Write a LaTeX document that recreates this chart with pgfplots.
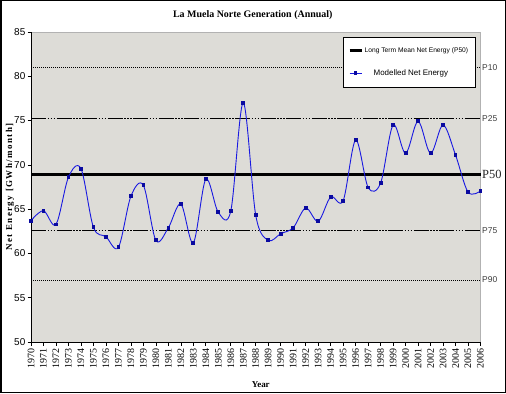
\documentclass[border=0pt]{standalone}
\usepackage{pgfplots}
\pgfplotsset{compat=1.18}
\usepackage{fontspec}
\setmainfont{Liberation Serif}
\setsansfont{Liberation Sans}
\definecolor{plotbg}{RGB}{221,220,215}
\definecolor{serblue}{RGB}{25,25,225}
\definecolor{mkblue}{RGB}{10,10,160}
\definecolor{pgray}{RGB}{60,60,60}
\pgfplotsset{
  mylegimg/.style={legend image code/.code={\draw[mark repeat=2,mark phase=2,##1] plot coordinates {(0bp,0bp) (6bp,0bp) (12bp,0bp)};}},
}
\pgfplotstableread{
year val
1970 63.70
1971 64.82
1972 63.28
1973 68.60
1974 69.57
1975 62.95
1976 61.89
1977 60.69
1978 66.45
1979 67.69
1980 61.48
1981 62.90
1982 65.58
1983 61.21
1984 68.37
1985 64.64
1986 64.79
1987 77.00
1988 64.30
1989 61.48
1990 62.23
1991 62.90
1992 65.13
1993 63.63
1994 66.37
1995 65.96
1996 72.80
1997 67.46
1998 67.95
1999 74.50
2000 71.30
2001 74.92
2002 71.30
2003 74.50
2004 71.11
2005 66.93
2006 67.05
}\energy
\begin{document}
\begin{tikzpicture}[x=1bp,y=1bp]
\begin{axis}[
  at={(31bp,51bp)}, anchor=south west,
  scale only axis, width=449.5bp, height=310bp,
  xmin=1970, xmax=2006, ymin=50, ymax=85,
  axis background/.style={fill=plotbg, draw=gray!60},
  axis x line=bottom, axis y line=left,
  axis line style={-, black, line width=0.8bp},
  xtick={1970,...,2006}, ytick={50,55,...,85},
  tick align=outside, major tick length=3.5bp,
  tick style={black, line width=0.6bp},
  /pgf/number format/assume math mode=true,
  /pgf/number format/1000 sep={},
  xticklabel style={rotate=90, anchor=east, font=\fontsize{10}{10}\selectfont\rmfamily, inner sep=2.5bp},
  yticklabel style={font=\fontsize{10}{10}\selectfont\sffamily, inner sep=2bp},
  title={La Muela Norte Generation (Annual)},
  title style={font=\bfseries\fontsize{10}{10}\selectfont, at={(0.5,1)}, anchor=base, yshift=9bp, xshift=-3bp},
  xlabel={Year},
  xlabel style={font=\bfseries\fontsize{9}{9}\selectfont, at={(axis description cs:0.5,0)}, anchor=center, yshift=-43bp, xshift=5bp},
  ylabel={Net Energy [GWh/month]},
  ylabel style={font=\bfseries\fontsize{9}{9}\selectfont\addfontfeatures{LetterSpace=16}, at={(axis description cs:-0.0467,0.5)}, anchor=center},
  clip=false,
  mylegimg,
  legend cell align=left,
  legend style={at={(0.694,0.984)}, anchor=north west, draw=black, line width=0.8bp, fill=white,
    inner xsep=5bp, inner ysep=8bp, row sep=12bp, font=\sffamily},
]
% percentile lines
\addplot[black, line width=0.8bp, dash pattern=on 1bp off 1bp, forget plot] coordinates {(1970,81.0) (2006,81.0)};
\addplot[black, line width=0.8bp, dash pattern=on 15bp off 1.5bp on 1.5bp off 1.5bp on 1.5bp off 1.5bp on 1.5bp off 1.5bp, forget plot] coordinates {(1970,75.25) (2006,75.25)};
\addplot[black, line width=0.8bp, dash pattern=on 15bp off 1.5bp on 1.5bp off 1.5bp on 1.5bp off 1.5bp on 1.5bp off 1.5bp, forget plot] coordinates {(1970,62.6) (2006,62.6)};
\addplot[black, line width=0.8bp, dash pattern=on 1bp off 1bp, forget plot] coordinates {(1970,57.0) (2006,57.0)};
% P50
\addplot[black, line width=3bp, legend image post style={line width=2.3bp}] coordinates {(1970,68.9) (2006,68.9)};
\addlegendentry{\fontsize{6.7}{7}\selectfont Long Term Mean Net Energy (P50)\hspace{4bp}}
% series
\addplot[serblue, line width=0.9bp, smooth, tension=0.55, mark=square*, mark size=1.4bp, mark options={fill=mkblue, draw=mkblue, solid}] table[x=year, y=val] {\energy};
\addlegendentry{\hspace{9bp}\fontsize{8}{9}\selectfont Modelled Net Energy}
% right-hand labels
\node[anchor=west, font=\fontsize{8.5}{9}\selectfont\sffamily, text=pgray, inner sep=1.5bp] at (axis cs:2006,81.0) {P10};
\node[anchor=west, font=\fontsize{8.5}{9}\selectfont\sffamily, text=pgray, inner sep=1.5bp] at (axis cs:2006,75.25) {P25};
\node[anchor=west, font=\fontsize{12.5}{13}\selectfont\rmfamily, text=black!85, inner sep=1.5bp] at (axis cs:2006,68.9) {P50};
\node[anchor=west, font=\fontsize{8.5}{9}\selectfont\sffamily, text=pgray, inner sep=1.5bp] at (axis cs:2006,62.6) {P75};
\node[anchor=west, font=\fontsize{8.5}{9}\selectfont\sffamily, text=pgray, inner sep=1.5bp] at (axis cs:2006,57.0) {P90};
\end{axis}
\draw[line width=1.5bp] (0.75,0.75) rectangle (505.25,392.25);
\pgfresetboundingbox
\useasboundingbox (0,0) rectangle (506,393);
\end{tikzpicture}
\end{document}
